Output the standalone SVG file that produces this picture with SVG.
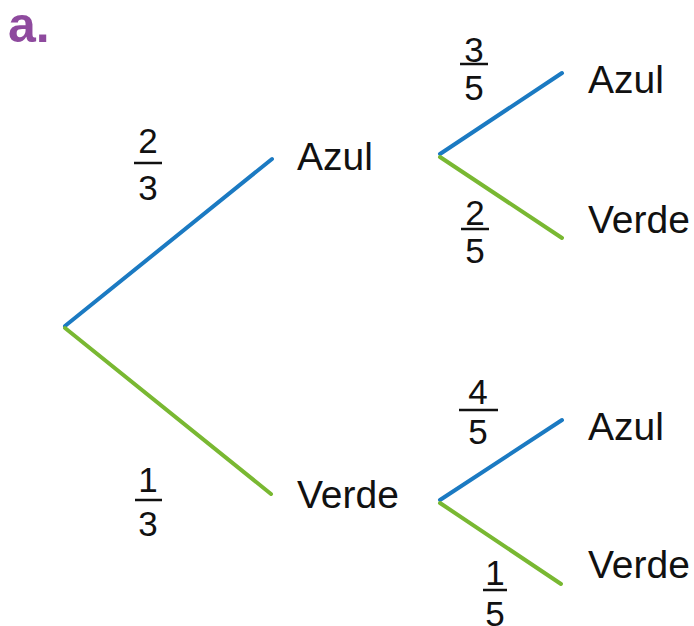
<svg xmlns="http://www.w3.org/2000/svg" width="694" height="626" viewBox="0 0 694 626">
<style>
.lbl{font-family:"Liberation Sans",Arial,sans-serif;font-size:39px;fill:#111}
.num{font-family:"Liberation Sans",Arial,sans-serif;font-size:35px;fill:#111;text-anchor:middle}
.bar{stroke:#111;stroke-width:2.5}
.blue{stroke:#1b7ac2;stroke-width:4;fill:none;stroke-linecap:round}
.green{stroke:#79b832;stroke-width:4;fill:none;stroke-linecap:round}
</style>
<rect width="694" height="626" fill="#fff"/>
<text x="8" y="42" font-family="'Liberation Sans',Arial,sans-serif" font-weight="bold" font-size="50" fill="#8e4a9e">a.</text>
<g id="connectors">
<line class="blue" x1="65" y1="326" x2="272" y2="159"/>
<line class="green" x1="65" y1="328" x2="271" y2="494"/>
<line class="blue" x1="440" y1="154" x2="562" y2="73"/>
<line class="green" x1="440" y1="157" x2="562" y2="238"/>
<line class="blue" x1="440" y1="500" x2="562" y2="420"/>
<line class="green" x1="440" y1="503" x2="561" y2="584"/>
</g>
<g id="f23"><text class="num" x="148" y="153">2</text><line class="bar" x1="134" y1="163" x2="162" y2="163"/><text class="num" x="148" y="200">3</text></g>
<g id="f13"><text class="num" x="148" y="492">1</text><line class="bar" x1="135" y1="500" x2="162" y2="500"/><text class="num" x="148" y="536">3</text></g>
<g id="f35"><text class="num" x="474" y="62">3</text><line class="bar" x1="460" y1="64" x2="488" y2="64"/><text class="num" x="474" y="100">5</text></g>
<g id="f25"><text class="num" x="475" y="225">2</text><line class="bar" x1="461" y1="229" x2="489" y2="229"/><text class="num" x="475" y="263">5</text></g>
<g id="f45"><text class="num" x="478" y="404">4</text><line class="bar" x1="459" y1="410" x2="498" y2="410"/><text class="num" x="478" y="444">5</text></g>
<g id="f15"><text class="num" x="495" y="585">1</text><line class="bar" x1="483" y1="590" x2="507" y2="590"/><text class="num" x="495" y="626">5</text></g>
<g id="n-azul"><text class="lbl" x="297" y="170">Azul</text></g>
<g id="n-verde"><text class="lbl" x="297" y="508">Verde</text></g>
<g id="n-azul-azul"><text class="lbl" x="588" y="93">Azul</text></g>
<g id="n-azul-verde"><text class="lbl" x="588" y="233">Verde</text></g>
<g id="n-verde-azul"><text class="lbl" x="588" y="440">Azul</text></g>
<g id="n-verde-verde"><text class="lbl" x="588" y="578">Verde</text></g>
</svg>
